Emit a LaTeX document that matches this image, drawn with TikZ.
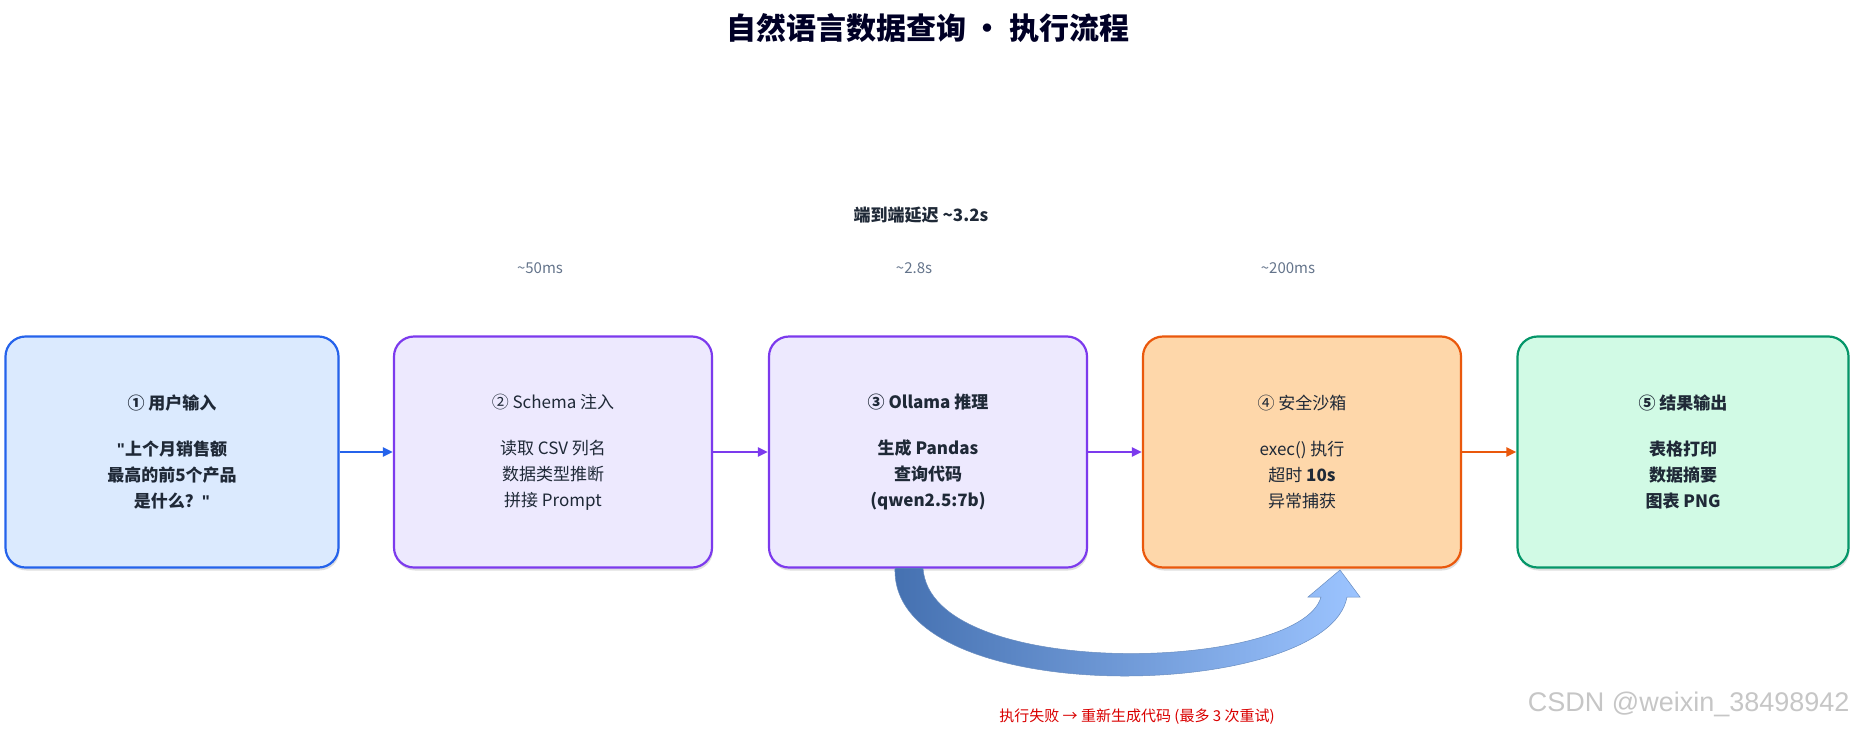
\documentclass[tikz,border=0pt]{standalone}
\usepackage{fontspec}
\setmainfont{Noto Sans CJK SC}
\newfontfamily\lib{Liberation Sans}
\usetikzlibrary{arrows.meta,shadows}
\definecolor{c1}{HTML}{2563EB}\definecolor{f1}{HTML}{DBEAFE}
\definecolor{c2}{HTML}{7C3AED}\definecolor{f2}{HTML}{EDE9FE}
\definecolor{c4}{HTML}{EA580C}\definecolor{f4}{HTML}{FED7AA}
\definecolor{c5}{HTML}{059669}\definecolor{f5}{HTML}{D1FAE5}
\definecolor{tx}{HTML}{1F2937}\definecolor{gr}{HTML}{64748B}
\definecolor{ad}{HTML}{4470B0}\definecolor{al}{HTML}{9CC4FF}
\newcommand{\dq}{{\lib\bfseries"}}
\begin{document}
\begin{tikzpicture}[x=1pt,y=1pt,
 box/.style={draw=#1,line width=2.2pt,rounded corners=20pt,minimum width=318pt,minimum height=231pt,inner sep=0pt,text=tx,align=center,font=\fontsize{17}{26}\selectfont,drop shadow={shadow xshift=1pt,shadow yshift=-3pt,opacity=0.25}},
 conn/.style={-{Triangle[length=10pt,width=9pt]},line width=2.5pt},
 lat/.style={text=gr,font=\fontsize{15}{18}\selectfont}]
\useasboundingbox (0,0) rectangle (1857,-736);
\node[font=\bfseries\fontsize{30}{34}\selectfont,text=black!85!blue] (title) at (928,-28) {自然语言数据查询 · 执行流程};
\node[font=\bfseries\fontsize{17}{20}\selectfont,text=tx] (e2e) at (921,-215) {端到端延迟 \textasciitilde3.2s};
\node[lat] (l1) at (540,-268) {\textasciitilde50ms};
\node[lat] (l2) at (914,-268) {\textasciitilde2.8s};
\node[lat] (l3) at (1288,-268) {\textasciitilde200ms};
\node[box=c1,fill=f1,minimum width=333pt,font=\bfseries\fontsize{17}{26}\selectfont] (b1) at (172,-452) {① 用户输入\\[20pt]\dq 上个月销售额\\最高的前5个产品\\是什么？\dq};
\node[box=c2,fill=f2] (b2) at (553,-452) {② Schema 注入\\[20pt]读取 CSV 列名\\数据类型推断\\拼接 Prompt};
\node[box=c2,fill=f2,font=\bfseries\fontsize{17}{26}\selectfont] (b3) at (928,-452) {③ Ollama 推理\\[20pt]生成 Pandas\\查询代码\\(qwen2.5:7b)};
\node[box=c4,fill=f4] (b4) at (1302,-452) {④ 安全沙箱\\[20pt]exec() 执行\\超时 \textbf{10s}\\异常捕获};
\node[box=c5,fill=f5,minimum width=331pt,font=\bfseries\fontsize{17}{26}\selectfont] (b5) at (1683,-452) {⑤ 结果输出\\[20pt]表格打印\\数据摘要\\图表 PNG};
\draw[conn,c1] (b1) -- (b2);
\draw[conn,c2] (b2) -- (b3);
\draw[conn,c2] (b3) -- (b4);
\draw[conn,c4] (b4) -- (b5);
\shade[left color=ad,right color=al,draw=ad!80,line width=0.5pt]
 (895,-568) .. controls (890,-712) and (1328,-702) .. (1347,-597) -- (1360,-597) -- (1340,-570) -- (1308,-597) -- (1321,-597) .. controls (1300,-672) and (930,-682) .. (923,-568) -- cycle;
\node[text=red!85!black,font=\fontsize{15}{18}\selectfont] (fail) at (1137,-717) {执行失败 → 重新生成代码 (最多 3 次重试)};
\node[text=gray!45,font=\lib\fontsize{27}{30}\selectfont,anchor=east] (wm) at (1853,-704) {CSDN @weixin\_38498942};
\end{tikzpicture}
\end{document}
